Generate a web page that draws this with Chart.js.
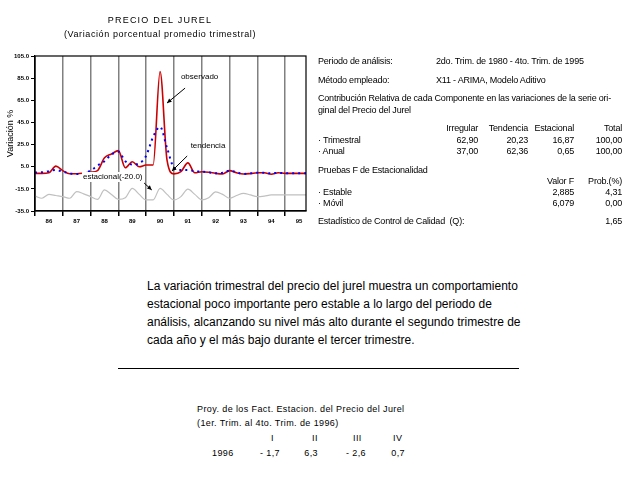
<!DOCTYPE html>
<html><head><meta charset="utf-8">
<script src="https://cdn.jsdelivr.net/npm/chart.js@4/dist/chart.umd.min.js"></script>
<style>
body{margin:0;background:#fff;width:640px;height:480px;position:relative;overflow:hidden;font-family:"Liberation Sans",Arial,sans-serif;color:#000}
.t{position:absolute;white-space:nowrap;font-size:9px;line-height:10px;letter-spacing:-0.2px}
.rt{position:absolute;white-space:nowrap;font-size:9px;line-height:10px;letter-spacing:-0.2px;text-align:right}
#c{position:absolute;left:0;top:0}
.p{position:absolute;left:147px;top:277px;font-size:12px;line-height:18px;white-space:nowrap}
.b{position:absolute;white-space:nowrap;font-size:9px;line-height:10px;letter-spacing:0.4px}
</style></head><body>
<canvas id="c" width="320" height="240"></canvas>
<div class="b" style="left:0;width:320px;text-align:center;top:15px;letter-spacing:1.2px">PRECIO DEL JUREL</div>
<div class="b" style="left:0;width:320px;text-align:center;top:29px;letter-spacing:0.6px">(Variación porcentual promedio trimestral)</div>

<div class="t" style="left:318px;top:56px">Periodo de análisis:</div>
<div class="t" style="left:436px;top:56px">2do. Trim. de 1980 - 4to. Trim. de 1995</div>
<div class="t" style="left:318px;top:75px">Método empleado:</div>
<div class="t" style="left:436px;top:75px">X11 - ARIMA, Modelo Aditivo</div>
<div class="t" style="left:318px;top:93px">Contribución Relativa de cada Componente en las variaciones de la serie ori-</div>
<div class="t" style="left:318px;top:105px">ginal del Precio del Jurel</div>
<div class="rt" style="right:162px;top:123px">Irregular</div>
<div class="rt" style="right:112px;top:123px">Tendencia</div>
<div class="rt" style="right:66px;top:123px">Estacional</div>
<div class="rt" style="right:18px;top:123px">Total</div>
<div class="t" style="left:318px;top:135px">· Trimestral</div>
<div class="rt" style="right:162px;top:135px">62,90</div>
<div class="rt" style="right:112px;top:135px">20,23</div>
<div class="rt" style="right:66px;top:135px">16,87</div>
<div class="rt" style="right:18px;top:135px">100,00</div>
<div class="t" style="left:318px;top:146px">· Anual</div>
<div class="rt" style="right:162px;top:146px">37,00</div>
<div class="rt" style="right:112px;top:146px">62,36</div>
<div class="rt" style="right:66px;top:146px">0,65</div>
<div class="rt" style="right:18px;top:146px">100,00</div>
<div class="t" style="left:318px;top:165px">Pruebas F de Estacionalidad</div>
<div class="rt" style="right:66px;top:176px">Valor F</div>
<div class="rt" style="right:18px;top:176px">Prob.(%)</div>
<div class="t" style="left:318px;top:187px">· Estable</div>
<div class="rt" style="right:66px;top:187px">2,885</div>
<div class="rt" style="right:18px;top:187px">4,31</div>
<div class="t" style="left:318px;top:198px">· Móvil</div>
<div class="rt" style="right:66px;top:198px">6,079</div>
<div class="rt" style="right:18px;top:198px">0,00</div>
<div class="t" style="left:318px;top:216px">Estadístico de Control de Calidad &nbsp;(Q):</div>
<div class="rt" style="right:18px;top:216px">1,65</div>

<div class="p">La variación trimestral del precio del jurel muestra un comportamiento<br>estacional poco importante pero estable a lo largo del periodo de<br>análisis, alcanzando su nivel más alto durante el segundo trimestre de<br>cada año y el más bajo durante el tercer trimestre.</div>
<div style="position:absolute;left:118px;top:368px;width:401px;height:1px;background:#000"></div>

<div class="b" style="left:197px;top:404px">Proy. de los Fact. Estacion. del Precio del Jurel</div>
<div class="b" style="left:197px;top:418px">(1er. Trim. al 4to. Trim. de 1996)</div>
<div class="b" style="left:271px;top:433px">I</div>
<div class="b" style="left:312px;top:433px">II</div>
<div class="b" style="left:353px;top:433px">III</div>
<div class="b" style="left:393px;top:433px">IV</div>
<div class="b" style="left:212px;top:448px">1996</div>
<div class="rt" style="right:360px;top:448px;font-size:9px;letter-spacing:0.4px">- 1,7</div>
<div class="rt" style="right:322px;top:448px;font-size:9px;letter-spacing:0.4px">6,3</div>
<div class="rt" style="right:274px;top:448px;font-size:9px;letter-spacing:0.4px">- 2,6</div>
<div class="rt" style="right:235px;top:448px;font-size:9px;letter-spacing:0.4px">0,7</div>

<script>
const yearLabels = ['86','87','88','89','90','91','92','93','94','95'];
const yTicks = [-35,-15,5,25,45,65,85,105];
const observado = [-1,-1,-0.5,5.5,1.5,-1.3,-1.3,-0.8,0,1.5,13,16.5,19.5,4,9.5,5,6.5,6.5,91,11,-1.5,0.5,8.5,-0.5,0.5,0,-1,-1.5,1.5,-0.5,-1.6,-1.2,-0.5,-0.5,-1.8,-0.5,-1,-1,-1,-1];
const tendencia = [-0.3,0,1,2,0.5,-1,-1.5,-1,1.5,6,10,16,18.5,10,7,8,15,32,41,22,4,2,2,1,0.5,0,-1,-0.5,1.5,0,-1.5,-1,-0.5,-0.5,-1,-0.5,-1,-1,-1,-1];
const estacional = [-21.5,-23.5,-20,-21,-22,-23.5,-17.5,-19.5,-22,-24.5,-16,-20,-24.5,-23,-14.5,-20,-25,-25,-14.5,-20,-25,-22,-15.3,-20,-25,-23,-17.8,-20,-23.5,-21,-19,-20.5,-22,-21.5,-20.5,-20.5,-20.5,-20.5,-20.5,-20.5];

const notes = [
  {text:'observado', tx:21.0, ty:86, ax1:21.6, ay1:76, ax2:19.0, ay2:62.5, bg:false},
  {text:'tendencia', tx:22.4, ty:23.7, ax1:21.9, ay1:14.7, ax2:19.7, ay2:1.1, bg:false},
  {text:'estacional(-20.0)', tx:6.9, ty:-4.3, ax1:15.7, ay1:-9.7, ax2:16.8, ay2:-16, bg:true}
];

const pts = arr => arr.map((v,i)=>({x:i,y:v}));

const annot = {
  id:'annot',
  afterDatasetsDraw(chart){
    const {ctx, chartArea:a, scales:{x,y}} = chart;
    ctx.save();
    ctx.strokeStyle='#000'; ctx.lineWidth=1.2;
    ctx.strokeRect(a.left, a.top, a.right-a.left, a.bottom-a.top);
    ctx.font='8px "Liberation Sans", Arial, sans-serif';
    ctx.textBaseline='middle';
    notes.forEach(n=>{
      const px=x.getPixelForValue(n.tx), py=y.getPixelForValue(n.ty);
      const w=ctx.measureText(n.text).width;
      if(n.bg){ctx.fillStyle='#fff'; ctx.fillRect(px-1,py-5,w+2,10);}
      ctx.fillStyle='#000'; ctx.fillText(n.text,px,py);
      const x1=x.getPixelForValue(n.ax1), y1=y.getPixelForValue(n.ay1);
      const x2=x.getPixelForValue(n.ax2), y2=y.getPixelForValue(n.ay2);
      ctx.lineWidth=1;
      ctx.beginPath(); ctx.moveTo(x1,y1); ctx.lineTo(x2,y2); ctx.stroke();
      const ang=Math.atan2(y2-y1,x2-x1), L=5;
      ctx.beginPath();
      ctx.moveTo(x2,y2);
      ctx.lineTo(x2-L*Math.cos(ang-0.45), y2-L*Math.sin(ang-0.45));
      ctx.lineTo(x2-L*Math.cos(ang+0.45), y2-L*Math.sin(ang+0.45));
      ctx.closePath(); ctx.fill();
    });
    ctx.restore();
  }
};

new Chart(document.getElementById('c'), {
  type:'line',
  data:{datasets:[
    {label:'estacional', data:pts(estacional), borderColor:'#c0c0c0', borderWidth:1.2, pointRadius:0, cubicInterpolationMode:'monotone', order:3},
    {label:'observado', data:pts(observado), borderColor:'#cc0000', borderWidth:1.6, pointRadius:0, cubicInterpolationMode:'monotone', order:2},
    {label:'tendencia', data:pts(tendencia), borderColor:'#0000ff', borderWidth:2, borderDash:[2,4], pointRadius:0, cubicInterpolationMode:'monotone', order:1}
  ]},
  options:{
    responsive:false, animation:false, devicePixelRatio:1,
    layout:{padding:{top:56,right:14,left:0,bottom:0}},
    plugins:{legend:{display:false}, tooltip:{enabled:false}},
    scales:{
      x:{type:'linear', min:0, max:39,
        afterBuildTicks:s=>{const t=[];for(let v=0;v<=38;v+=2)t.push({value:v});s.ticks=t;},
        afterFit:s=>{s.height=29;},
        grid:{color:c=>(c.tick&&c.tick.value%4===0)?'#808080':'rgba(0,0,0,0)', lineWidth:1.5,
              tickColor:c=>(c.tick&&c.tick.value%4===0)?'#000':'rgba(0,0,0,0)', tickLength:5},
        border:{color:'#000', width:1.2},
        ticks:{autoSkip:false, maxRotation:0, padding:2, color:'#000', font:{size:6, weight:'bold'},
          callback:v=>((v-2)%4===0)?yearLabels[(v-2)/4]:''}
      },
      y:{min:-35, max:105,
        afterBuildTicks:s=>{s.ticks=yTicks.map(v=>({value:v}));},
        afterFit:s=>{s.width=35;},
        grid:{drawOnChartArea:false, tickColor:'#000', tickLength:4},
        border:{color:'#000', width:1.2},
        title:{display:true, text:'Variación %', color:'#000', font:{size:9}, padding:{top:5,bottom:0}},
        ticks:{padding:2, color:'#000', font:{size:6, weight:'bold'}, callback:v=>v.toFixed(1)}
      }
    }
  },
  plugins:[annot]
});
</script>
</body></html>
